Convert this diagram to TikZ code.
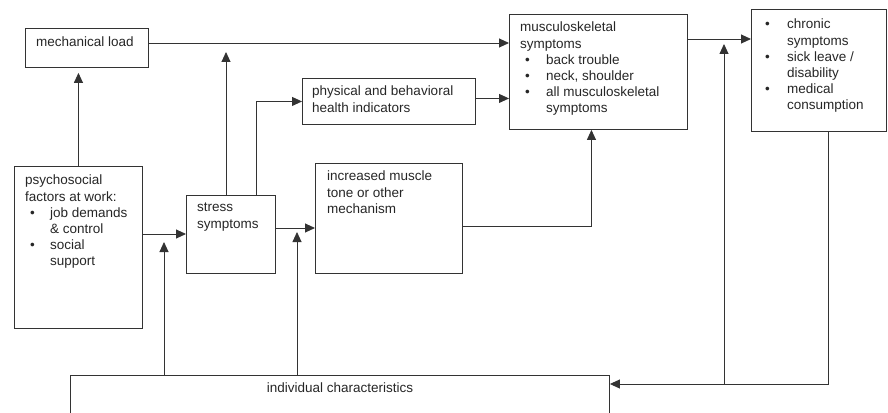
\documentclass[tikz,border=0pt]{standalone}
\usepackage{fontspec}
\setmainfont{Liberation Sans}
\usetikzlibrary{arrows.meta,calc}
\newcommand\mbul[1]{\hspace*{5pt}\makebox[#1][l]{\textbullet}}
\begin{document}
\begin{tikzpicture}[x=1pt,y=-1pt,
  box/.style={draw=black!80, line width=0.9pt, rectangle, inner sep=0pt, anchor=north west},
  txt/.style={anchor=north west, inner sep=0pt, align=left, font=\fontsize{13.5}{16.2}\selectfont, text=black!85},
  arr/.style={draw=black!80, line width=0.9pt, -{Triangle[length=10pt,width=9pt]}},
  ln/.style={draw=black!80, line width=0.9pt}]
\useasboundingbox (0,0) rectangle (888,412);
\clip (0,0) rectangle (888,412);
% boxes
\node[box, minimum width=123pt, minimum height=39pt] (mech) at (25,28) {};
\node[box, minimum width=173pt, minimum height=46pt] (phys) at (302,78) {};
\node[box, minimum width=178pt, minimum height=115pt] (musc) at (509,14) {};
\node[box, minimum width=135pt, minimum height=122pt] (chron) at (751,9) {};
\node[box, minimum width=128pt, minimum height=162pt] (psych) at (14,166) {};
\node[box, minimum width=89pt, minimum height=78pt] (stress) at (186,195) {};
\node[box, minimum width=147pt, minimum height=110pt] (incr) at (315,163) {};
\node[box, minimum width=539pt, minimum height=60pt] (indiv) at (70,375) {};
% texts
\node[txt] (tmech) at (36,37) {mechanical load};
\node[txt] (tphys) at (312,86) {physical and behavioral\\health indicators};
\node[txt] (tmusc) at (520,22) {musculoskeletal\\symptoms\\\mbul{21pt}back trouble\\\mbul{21pt}neck, shoulder\\\mbul{21pt}all musculoskeletal\\\hspace*{26pt}symptoms};
\node[txt] (tchron) at (760,19) {\mbul{22pt}chronic\\\hspace*{27pt}symptoms\\\mbul{22pt}sick leave /\\\hspace*{27pt}disability\\\mbul{22pt}medical\\\hspace*{27pt}consumption};
\node[txt] (tpsych) at (25,175) {psychosocial\\factors at work:\\\mbul{20pt}job demands\\\hspace*{25pt}\& control\\\mbul{20pt}social\\\hspace*{25pt}support};
\node[txt] (tstress) at (197,203) {stress\\symptoms};
\node[txt] (tincr) at (327,171) {increased muscle\\tone or other\\mechanism};
\node[txt, anchor=north] (tindiv) at (340,383) {individual characteristics};
% helper coordinates
\coordinate (m1) at ($(mech.north east)+(0,15)$);
\coordinate (s1) at (226,52);
\coordinate (s2) at (256,100);
\coordinate (m5) at ($(phys.east)+(0,-3)$);
\coordinate (m6) at ($(psych.north east)+(0,68)$);
\coordinate (m7) at ($(stress.north east)+(0,33)$);
\coordinate (m8) at ($(incr.north east)+(0,63)$);
\coordinate (m9) at ($(musc.north east)+(0,25)$);
\coordinate (i1) at (164,242);
\coordinate (i2) at (297,232);
\coordinate (c1) at (828,384);
\coordinate (c2) at (724,44);
% connectors
\draw[arr] (m1) -- (m1 -| musc.west);
\draw[arr] (psych.north) -- ($(psych.north |- mech.south)+(0,5)$);
\draw[arr] (stress.north -| s1) -- (s1);
\draw[arr] (stress.north -| s2) |- (phys.west);
\draw[arr] (m5) -- (m5 -| musc.west);
\draw[arr] (m6) -- (m6 -| stress.west);
\draw[arr] (m7) -- (m7 -| incr.west);
\draw[arr] (m8) -| ($(musc.south)+(-7,0)$);
\draw[arr] (m9) -- (m9 -| chron.west);
\draw[arr] (i1 |- indiv.north) -- (i1);
\draw[arr] (i2 |- indiv.north) -- (i2);
\draw[arr] (c1 |- chron.south) -- (c1) -- (c1 -| indiv.east);
\draw[ln] (c2 |- c1) -- ($(c2)+(0,8)$);
\draw[arr] ($(c2)+(0,8)$) -- (c2);
\end{tikzpicture}
\end{document}
